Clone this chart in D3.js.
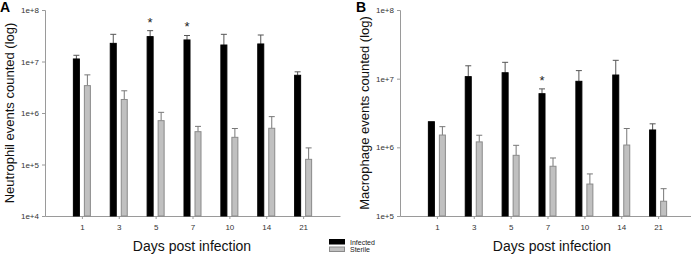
<!DOCTYPE html>
<html><head><meta charset="utf-8">
<script src="https://cdn.jsdelivr.net/npm/d3@7"></script>
<style>body{margin:0;background:#fff}svg{display:block;font-family:Arial,"Liberation Sans",sans-serif}</style>
</head><body><svg id="c" width="691" height="257"></svg>
<script>
const days = ["1","3","5","7","10","14","21"];
const neutInfected = [1.12e7, 2.25e7, 3.04e7, 2.62e7, 2.09e7, 2.19e7, 5.4e6];
const neutInfectedErr = [2.0e6, 1.12e7, 0.93e7, 0.58e7, 1.28e7, 1.08e7, 0.9e6];
const neutSterile = [3.4e6, 1.83e6, 7.1e5, 4.34e5, 3.37e5, 5.05e5, 1.26e5];
const neutSterileErr = [2.1e6, 0.87e6, 3.2e5, 1.16e5, 1.63e5, 3.45e5, 0.84e5];
const neutStars = [false, false, true, true, false, false, false];
const macInfected = [2.36e6, 1.07e7, 1.22e7, 6.04e6, 9.15e6, 1.13e7, 1.79e6];
const macInfectedErr = [0, 4.7e6, 5.1e6, 1.06e6, 3.95e6, 7.2e6, 0.41e6];
const macSterile = [1.51e6, 1.2e6, 7.65e5, 5.3e5, 2.92e5, 1.08e6, 1.64e5];
const macSterileErr = [0.49e6, 0.3e6, 3.05e5, 1.7e5, 1.18e5, 0.8e6, 0.86e5];
const macStars = [false, false, false, true, false, false, false];
const neutTicks = [1e4, 1e5, 1e6, 1e7, 1e8];
const macTicks = [1e5, 1e6, 1e7, 1e8];
const tickLabel = v => "1e+" + Math.round(Math.log10(v));

const svg = d3.select("#c");
const axisColor = "#9a9a9a";

function panel(o) {
  const g = svg.append("g");
  const x = d3.scalePoint().domain(o.cats).range([o.x0, o.x1]).padding(1);
  const y = d3.scaleLog().domain(o.ydom).range([216, 10]);
  const yAxis = g.append("g").attr("transform", `translate(${o.x0},0)`)
    .call(d3.axisLeft(y).tickValues(o.ticks).tickFormat(tickLabel).tickSize(3).tickPadding(3));
  yAxis.select(".domain").attr("stroke", axisColor);
  yAxis.selectAll(".tick line").attr("stroke", axisColor);
  yAxis.selectAll("text").attr("font-size", 8).attr("fill", "#333");
  const xAxis = g.append("g").attr("transform", "translate(0,216)")
    .call(d3.axisBottom(x).tickSize(3).tickSizeOuter(0).tickPadding(5));
  xAxis.select(".domain").attr("stroke", axisColor);
  xAxis.selectAll(".tick line").attr("stroke", axisColor);
  xAxis.selectAll("text").attr("font-size", 8).attr("fill", "#333");

  const bw = 7;
  const series = [
    {vals: o.inf, errs: o.infErr, dx: -9, fill: "#000", stroke: "#000", ec: "#555"},
    {vals: o.ster, errs: o.sterErr, dx: 2, fill: "#c0c0c0", stroke: "#8a8a8a", ec: "#777"}
  ];
  series.forEach(s => {
    const sg = g.append("g");
    o.cats.forEach((c, i) => {
      const bx = x(c) + s.dx;
      const top = y(s.vals[i]);
      if (s.errs[i] > 0) {
        const et = y(s.vals[i] + s.errs[i]);
        sg.append("line").attr("x1", bx + bw/2).attr("x2", bx + bw/2).attr("y1", top).attr("y2", et)
          .attr("stroke", s.ec).attr("stroke-width", 1);
        sg.append("line").attr("x1", bx + 0.5).attr("x2", bx + bw - 0.5).attr("y1", et).attr("y2", et)
          .attr("stroke", s.ec).attr("stroke-width", 1);
      }
      sg.append("rect").attr("x", bx + 0.5).attr("y", top).attr("width", bw - 1).attr("height", 216 - top)
        .attr("fill", s.fill).attr("stroke", s.stroke).attr("stroke-width", 1);
    });
  });
  o.cats.forEach((c, i) => {
    if (o.stars[i]) {
      const et = y(o.inf[i] + o.infErr[i]);
      g.append("text").attr("x", x(c) - 5.5).attr("y", et - 4).attr("text-anchor", "middle")
        .attr("font-size", 13).attr("fill", "#222").text("*");
    }
  });
  g.append("text").attr("transform", `translate(${o.ytx},113) rotate(-90)`).attr("text-anchor", "middle")
    .attr("font-size", 13).attr("fill", "#111").text(o.ytitle);
  g.append("text").attr("x", o.xtx).attr("y", 251).attr("text-anchor", "middle")
    .attr("font-size", 14).attr("fill", "#111").text("Days post infection");
  g.append("text").attr("x", o.lx).attr("y", 12).attr("font-size", 14).attr("font-weight", "bold")
    .attr("fill", "#000").text(o.letter);
}

panel({cats: days, x0: 45, x1: 340, ydom: [1e4, 1e8], ticks: neutTicks,
  inf: neutInfected, infErr: neutInfectedErr, ster: neutSterile, sterErr: neutSterileErr, stars: neutStars,
  ytitle: "Neutrophil events counted (log)", ytx: 14, xtx: 192, lx: 0, letter: "A"});
panel({cats: days, x0: 400, x1: 695, ydom: [1e5, 1e8], ticks: macTicks,
  inf: macInfected, infErr: macInfectedErr, ster: macSterile, sterErr: macSterileErr, stars: macStars,
  ytitle: "Macrophage events counted (log)", ytx: 369, xtx: 552, lx: 356, letter: "B"});

// legend
const legend = [{name: "Infected", fill: "#000", stroke: "#000"}, {name: "Sterile", fill: "#c0c0c0", stroke: "#8a8a8a"}];
const lg = svg.append("g");
legend.forEach((d, i) => {
  lg.append("rect").attr("x", 329.5).attr("y", 239.5 + i * 7.5).attr("width", 15).attr("height", 4.5)
    .attr("fill", d.fill).attr("stroke", d.stroke);
  lg.append("text").attr("x", 350).attr("y", 244.5 + i * 7.5).attr("font-size", 7).attr("fill", "#222").text(d.name);
});
</script></body></html>
